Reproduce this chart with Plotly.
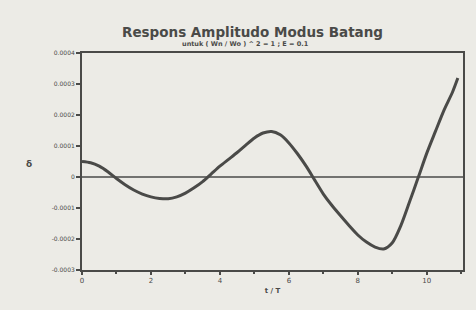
import plotly.graph_objects as go

# t / T values and response (in units of 1e-4)
t_vals = [0.0, 0.25, 0.5, 0.75, 1.0, 1.25, 1.5, 1.75, 2.0, 2.25, 2.5, 2.75, 3.0, 3.25,
          3.5, 3.75, 4.0, 4.25, 4.5, 4.75, 5.0, 5.25, 5.5, 5.75, 6.0, 6.25, 6.5, 6.75,
          7.0, 7.25, 7.5, 7.75, 8.0, 8.25, 8.5, 8.75, 9.0, 9.25, 9.5, 9.75, 10.0, 10.25,
          10.5, 10.75, 10.9]
amp_e4 = [0.5, 0.46, 0.35, 0.17, -0.05, -0.25, -0.42, -0.55, -0.64, -0.69, -0.7, -0.64,
          -0.52, -0.35, -0.15, 0.1, 0.35, 0.57, 0.79, 1.03, 1.26, 1.42, 1.47, 1.36, 1.1,
          0.75, 0.35, -0.1, -0.55, -0.92, -1.25, -1.57, -1.87, -2.1, -2.26, -2.32, -2.12,
          -1.56, -0.8, -0.02, 0.77, 1.47, 2.16, 2.75, 3.19]
amp = [v * 1e-4 for v in amp_e4]

y_ticks = [0.0004, 0.0003, 0.0002, 0.0001, 0.0, -0.0001, -0.0002, -0.0003]
y_tick_text = ["0.0004", "0.0003", "0.0002", "0.0001", "0", "-0.0001", "-0.0002", "-0.0003"]
x_ticks = [0, 2, 4, 6, 8, 10]
x_tick_text = ["0", "2", "4", "6", "8", "10"]

ink = "#4a4a48"
paper = "#ecebe6"
font = "DejaVu Sans"

fig = go.Figure()
fig.add_trace(go.Scatter(
    x=[0, 11.05], y=[0, 0], mode="lines",
    line=dict(color=ink, width=1.6), hoverinfo="skip", showlegend=False))
fig.add_trace(go.Scatter(
    x=t_vals, y=amp, mode="lines",
    line=dict(color=ink, width=3, shape="spline", smoothing=0.8),
    showlegend=False))

fig.update_layout(
    width=476, height=310,
    margin=dict(l=82, r=13, t=53, b=40),
    paper_bgcolor=paper, plot_bgcolor=paper,
    font=dict(family=font, color=ink),
)
fig.add_annotation(text="<b>Respons Amplitudo Modus Batang</b>", xref="paper", yref="paper",
                   x=0.448, y=1.0, yanchor="middle", yshift=21, showarrow=False,
                   font=dict(size=13.5, color=ink, family=font))
fig.add_annotation(text="<b>untuk ( Wn / Wo ) ^ 2 = 1 ; E = 0.1</b>", xref="paper", yref="paper",
                   x=0.43, y=1.0, yanchor="middle", yshift=9, showarrow=False,
                   font=dict(size=6.5, color=ink, family=font))
fig.add_annotation(text="<b>δ</b>", xref="paper", yref="paper", x=0, xshift=-58,
                   y=0.49, showarrow=False, font=dict(size=9, color=ink))

fig.update_xaxes(
    range=[0, 11.05], tickvals=x_ticks, ticktext=x_tick_text,
    showgrid=False, zeroline=False, showline=True, linecolor=ink, linewidth=2,
    mirror=True, ticks="outside", ticklen=3, tickcolor=ink, tickwidth=1.5,
    tickfont=dict(size=7, color=ink, family=font),
    minor=dict(dtick=1, ticks="outside", ticklen=2, tickcolor=ink, tick0=0),
    title=dict(text="<b>t / T</b>", font=dict(size=7, color=ink), standoff=4),
)
fig.update_yaxes(
    range=[-0.0003, 0.0004], tickvals=y_ticks, ticktext=y_tick_text,
    showgrid=False, zeroline=False, showline=True, linecolor=ink, linewidth=2,
    mirror=True, ticks="outside", ticklen=4, tickcolor=ink, tickwidth=1.5,
    tickfont=dict(size=6, color=ink, family=font),
)

fig.write_html("out.html")
